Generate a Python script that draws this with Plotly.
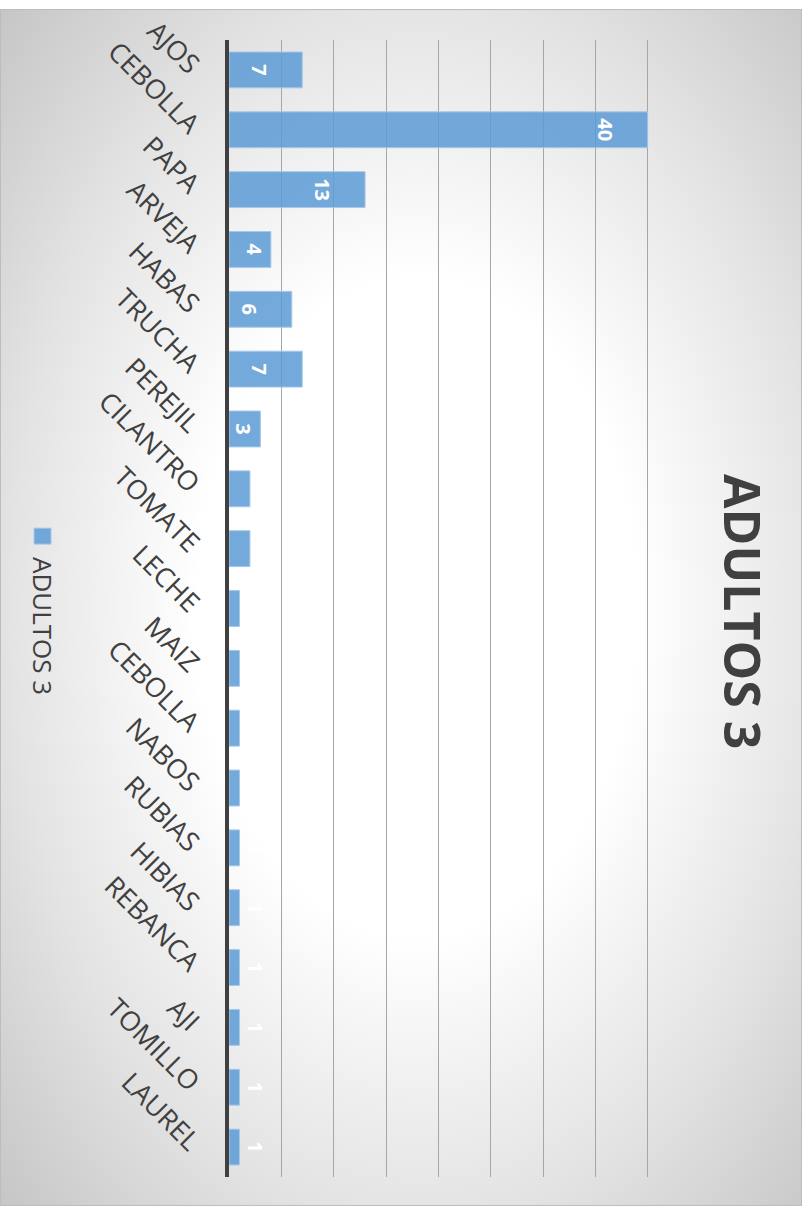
import base64
import plotly.graph_objects as go

categories = ["AJOS", "CEBOLLA", "PAPA", "ARVEJA", "HABAS", "TRUCHA", "PEREJIL",
              "CILANTRO", "TOMATE", "LECHE", "MAIZ", "CEBOLLA", "NABOS", "RUBIAS",
              "HIBIAS", "REBANCA", "AJI", "TOMILLO", "LAUREL"]
values = [7, 40, 13, 4, 6, 7, 3, 2, 2, 1, 1, 1, 1, 1, 1, 1, 1, 1, 1]
series_name = "ADULTOS 3"
title_text = "ADULTOS 3"

W, H = 810, 1206
L, R, T, B = 229, 700, 38, 1177
PW, PH = R - L, B - T


def px(x):
    return (x - L) / PW


def py(y):
    return (B - y) / PH


positions = list(range(len(categories)))
labels = [("\u00a0<br>" + str(v)) if v >= 6 else str(v) for v in values]
textpos = ["inside" if v >= 3 else "outside" for v in values]

svg = (
    '<svg xmlns="http://www.w3.org/2000/svg" width="802" height="1199" '
    'viewBox="0 0 802 1199" preserveAspectRatio="none">'
    '<defs><radialGradient id="g" cx="0.52" cy="0.5" r="0.72" fx="0.52" fy="0.5">'
    '<stop offset="0" stop-color="#ffffff"/>'
    '<stop offset="0.38" stop-color="#ffffff"/>'
    '<stop offset="0.7" stop-color="#e4e4e4"/>'
    '<stop offset="1" stop-color="#c6c6c6"/>'
    '</radialGradient></defs>'
    '<rect x="0" y="0" width="802" height="1199" fill="url(#g)"/>'
    '<rect x="0.5" y="0.5" width="801" height="1198" fill="none" stroke="#bdbdbd" stroke-width="1"/>'
    '</svg>'
)
src = "data:image/svg+xml;base64," + base64.b64encode(svg.encode()).decode()

fig = go.Figure()
fig.add_trace(go.Bar(
    y=positions,
    x=values,
    orientation="h",
    name=series_name,
    width=0.6,
    marker=dict(color="rgba(91,155,213,0.85)", line=dict(color="#a8c8ea", width=1)),
    text=labels,
    textposition=textpos,
    insidetextanchor="end",
    textangle=90,
    constraintext="none",
    cliponaxis=False,
    textfont=dict(family="Open Sans", size=20, color="white", weight="bold"),
    showlegend=False,
))

fig.update_layout(
    width=W, height=H,
    margin=dict(l=L, r=W - R, t=T, b=H - B),
    paper_bgcolor="white",
    plot_bgcolor="rgba(0,0,0,0)",
    font=dict(family="Open Sans", color="#404040"),
    showlegend=False,
    images=[dict(source=src, xref="paper", yref="paper",
                 x=px(0), y=py(7), sizex=px(802) - px(0), sizey=py(7) - py(1206),
                 xanchor="left", yanchor="top", sizing="stretch", layer="below")],
    xaxis=dict(range=[0, 45], dtick=5, showgrid=True, gridcolor="#a6a6a6", gridwidth=1,
               showticklabels=False, zeroline=False, showline=False, fixedrange=True),
    yaxis=dict(range=[len(categories) - 0.5, -0.5], tickmode="array",
               tickvals=positions, ticktext=categories, tickangle=45,
               tickfont=dict(family="Open Sans", size=27, color="#404040"),
               showgrid=False, zeroline=False, showline=True, linecolor="#404040",
               linewidth=4, ticks="", ticklabelstandoff=22),
    annotations=[
        dict(text="<b>" + title_text + "</b>", x=px(743), y=py(610), xref="paper", yref="paper",
             showarrow=False, textangle=90, xanchor="center", yanchor="middle",
             font=dict(family="Open Sans", size=50, color="#404040")),
        dict(text=series_name, x=px(43), y=py(625), xref="paper", yref="paper",
             showarrow=False, textangle=90, xanchor="center", yanchor="middle",
             font=dict(family="Open Sans", size=26, color="#404040")),
    ],
    shapes=[dict(type="rect", xref="paper", yref="paper",
                 x0=px(34), x1=px(51), y0=py(543), y1=py(527),
                 fillcolor="rgba(91,155,213,0.85)", line=dict(color="#a8c8ea", width=1))],
)

fig.write_html("out.html")
